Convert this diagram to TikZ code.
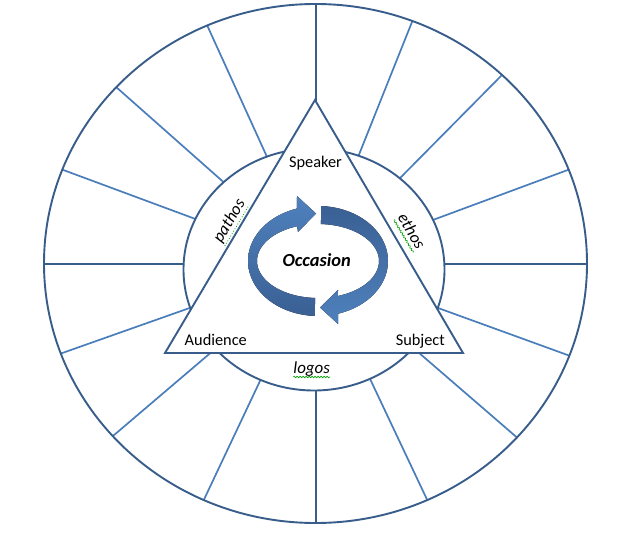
\documentclass[tikz,border=0pt]{standalone}
\usepackage{fontspec}
\setmainfont{Carlito}
\usetikzlibrary{calc,decorations.pathmorphing}
\definecolor{dkline}{RGB}{56,93,138}
\definecolor{ltline}{RGB}{74,126,187}
\definecolor{arlight}{RGB}{79,129,189}
\definecolor{ardark}{RGB}{58,96,148}
\definecolor{sqgreen}{RGB}{0,160,0}
\begin{document}
\begin{tikzpicture}[x=1bp,y=-1bp,
  darkline/.style={draw=dkline,line width=1.9bp},
  spokelt/.style={draw=ltline,line width=1.7bp},
  spokedk/.style={draw=dkline,line width=2bp},
  lbl/.style={font=\fontsize{16.4}{19}\selectfont, inner sep=0pt},
  ital/.style={font=\fontsize{17}{20}\selectfont\itshape, inner sep=0pt},
  wavy/.style={draw=sqgreen,line width=0.6bp,decorate,decoration={snake,segment length=3bp,amplitude=0.8bp}},
  dots/.style={draw=sqgreen,line width=0.8bp,dotted}]
\useasboundingbox[fill=white] (0,0) rectangle (633,533);
\coordinate (c) at (315.5,263.5);
% spokes
\foreach \a/\n in {246.5/a,222.8/b,201.2/d,159.7/e,138.3/f,114.3/g,290.9/h,313.4/i,338.8/j,20.8/k,42.1/l,65.7/m}{
  \coordinate (o\n) at ({315.5+271.5*cos(\a)},{263.5+259.5*sin(\a)});
  \draw[spokelt] (c) -- (o\n);
}
\foreach \a/\n in {270/top,90/bot,180/lft,0/rgt}{
  \coordinate (o\n) at ({315.5+271.5*cos(\a)},{263.5+259.5*sin(\a)});
  \draw[spokedk] (c) -- (o\n);
}
% outer ring
\draw[darkline] (c) ellipse [x radius=271.5, y radius=259.5];
% inner ring
\coordinate (ic) at (314,269.5);
\draw[darkline, fill=white] (ic) ellipse [x radius=130.5, y radius=121];
% triangle
\coordinate (sp) at (315,100);
\coordinate (au) at (165,353);
\coordinate (su) at (463,353);
\draw[darkline, fill=white, line join=miter] (sp) -- (au) -- (su) -- cycle;
% circular arrows
\fill[top color=ardark, bottom color=arlight]
  plot[domain=-87.5:73.4, samples=60] ({318+70*cos(\x)},{261+55*sin(\x)})
  -- (338,324) -- (320,307.5) -- (338,290)
  -- plot[domain=70.9:-87.2, samples=60] ({318+61*cos(\x)},{261+37*sin(\x)}) -- cycle;
\fill[top color=arlight, bottom color=ardark]
  plot[domain=92.5:252.5, samples=60] ({318+70*cos(\x)},{261+55*sin(\x)})
  -- (297,196) -- (316,213.5) -- (298,232)
  -- plot[domain=249.9:92.8, samples=60] ({318+61*cos(\x)},{261+37*sin(\x)}) -- cycle;
% labels
\node[lbl, anchor=base] (spk) at (315.5,168) {Speaker};
\node[lbl, anchor=base] (aud) at (215.8,345) {Audience};
\node[lbl, anchor=base] (sub) at (420.3,345) {Subject};
\node[font=\fontsize{18.5}{22}\selectfont\bfseries\itshape, inner sep=0pt, anchor=base] (occ) at (316.7,266.7) {Occasion};
\node[ital, anchor=base] (log) at (311.7,373) {logos};
\draw[wavy] ($(log.base west)+(0,4)$) -- ($(log.base east)+(0,4)$);
\node[ital, anchor=base, rotate=59.3] (pat) at (233.5,223.5) {pathos};
\draw[dots] ($(pat.base west)!4bp!-90:(pat.base east)$) -- ($(pat.base east)!4bp!90:(pat.base west)$);
\node[ital, anchor=base, rotate=-59.3] (eth) at (407,234) {ethos};
\draw[wavy] ($(eth.base west)!4bp!-90:(eth.base east)$) -- ($(eth.base east)!4bp!90:(eth.base west)$);
\end{tikzpicture}
\end{document}
